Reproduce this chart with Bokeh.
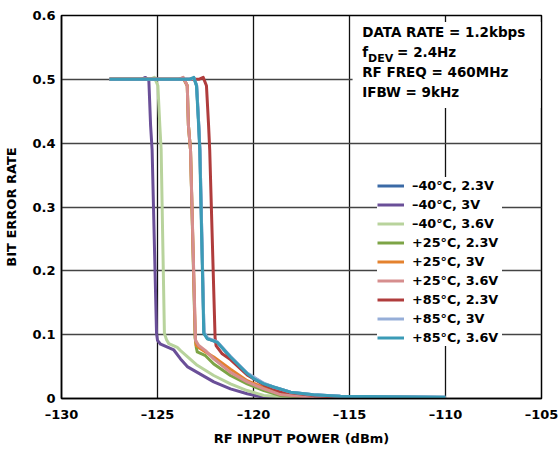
from bokeh.plotting import figure
from bokeh.models import Range1d, FixedTicker, Label, BoxAnnotation
from bokeh.embed import file_html
from bokeh.resources import INLINE

# ---------------- data ----------------
x_ticks = [-130, -125, -120, -115, -110, -105]
x_tick_labels = ["–130", "–125", "–120", "–115", "–110", "–105"]
y_ticks = [0, 0.1, 0.2, 0.3, 0.4, 0.5, 0.6]
y_tick_labels = ["0", "0.1", "0.2", "0.3", "0.4", "0.5", "0.6"]

series_names = ["–40°C, 2.3V", "–40°C, 3V", "–40°C, 3.6V",
                "+25°C, 2.3V", "+25°C, 3V", "+25°C, 3.6V",
                "+85°C, 2.3V", "+85°C, 3V", "+85°C, 3.6V"]
series_colors = ["#3b6aa6", "#6a4f98", "#b8d39c", "#7da446", "#e4822f",
                 "#d68e8e", "#b03c3c", "#96aed8", "#3b9bb6"]

m40_23_x = [-127.5, -123.3, -123.1, -122.96, -122.85, -122.79, -122.58, -122.4, -122.15, -121.89, -121.2, -120.33, -119.46, -118.96, -118.07, -116.88, -115.47, -110]
m40_23_y = [0.5, 0.5, 0.502, 0.49, 0.428, 0.389, 0.103, 0.094, 0.091, 0.088, 0.065, 0.039, 0.023, 0.018, 0.010, 0.006, 0.0035, 0.002]

m40_30_x = [-127.5, -125.85, -125.63, -125.45, -125.36, -125.28, -125.05, -125.0, -124.84, -124.15, -123.8, -123.45, -122.93, -122.07, -121.2, -120.33, -119.46, -118.0, -110]
m40_30_y = [0.5, 0.5, 0.503, 0.498, 0.428, 0.389, 0.102, 0.091, 0.085, 0.076, 0.062, 0.05, 0.041, 0.026, 0.015, 0.0074, 0.002, 0.001, 0.001]

m40_36_x = [-127.5, -125.4, -125.16, -124.98, -124.88, -124.81, -124.64, -124.53, -124.41, -123.97, -123.8, -122.93, -122.07, -121.2, -120.33, -119.46, -118.07, -110]
m40_36_y = [0.5, 0.5, 0.503, 0.49, 0.428, 0.389, 0.102, 0.092, 0.086, 0.080, 0.075, 0.052, 0.036, 0.023, 0.0125, 0.0047, 0.0016, 0.001]

p25_23_x = [-127.5, -123.9, -123.66, -123.45, -123.39, -123.28, -123.04, -122.98, -122.93, -122.5, -122.07, -121.2, -120.33, -119.46, -118.59, -117.0, -110]
p25_23_y = [0.5, 0.5, 0.502, 0.49, 0.428, 0.389, 0.095, 0.080, 0.073, 0.067, 0.054, 0.036, 0.023, 0.0125, 0.0047, 0.002, 0.001]

p25_30_x = [-127.5, -123.9, -123.66, -123.45, -123.39, -123.28, -123.03, -122.98, -122.76, -122.5, -122.07, -121.2, -120.33, -119.46, -118.59, -117.0, -110]
p25_30_y = [0.5, 0.5, 0.502, 0.49, 0.428, 0.389, 0.095, 0.083, 0.078, 0.073, 0.065, 0.046, 0.028, 0.017, 0.0074, 0.003, 0.001]

p25_36_x = [-127.5, -123.9, -123.66, -123.45, -123.39, -123.28, -123.02, -122.85, -122.5, -122.07, -121.2, -120.33, -119.46, -118.59, -117.0, -110]
p25_36_y = [0.5, 0.5, 0.503, 0.49, 0.428, 0.389, 0.091, 0.083, 0.075, 0.062, 0.041, 0.026, 0.015, 0.0063, 0.002, 0.001]

p85_23_x = [-127.5, -122.85, -122.62, -122.45, -122.34, -122.28, -122.0, -121.95, -121.63, -121.2, -120.33, -119.46, -118.59, -116.86, -115.0, -110]
p85_23_y = [0.5, 0.5, 0.503, 0.49, 0.428, 0.389, 0.095, 0.083, 0.070, 0.061, 0.037, 0.021, 0.011, 0.0045, 0.002, 0.001]

p85_30_x = [-127.5, -123.3, -123.1, -122.96, -122.85, -122.79, -122.58, -122.4, -122.15, -121.89, -121.2, -120.33, -119.46, -118.96, -118.07, -116.88, -115.47, -110]
p85_30_y = [0.5, 0.5, 0.502, 0.49, 0.428, 0.389, 0.104, 0.095, 0.092, 0.089, 0.066, 0.040, 0.024, 0.018, 0.010, 0.006, 0.0035, 0.002]

p85_36_x = [-127.5, -123.35, -123.11, -122.97, -122.86, -122.8, -122.59, -122.41, -122.15, -121.89, -121.2, -120.33, -119.98, -119.46, -118.96, -118.07, -116.88, -115.47, -110]
p85_36_y = [0.5, 0.5, 0.503, 0.49, 0.428, 0.389, 0.102, 0.0935, 0.091, 0.088, 0.065, 0.039, 0.031, 0.023, 0.018, 0.0099, 0.006, 0.0036, 0.002]

series_x = [m40_23_x, m40_30_x, m40_36_x, p25_23_x, p25_30_x, p25_36_x, p85_23_x, p85_30_x, p85_36_x]
series_y = [m40_23_y, m40_30_y, m40_36_y, p25_23_y, p25_30_y, p25_36_y, p85_23_y, p85_30_y, p85_36_y]

notes = ["DATA RATE = 1.2kbps", "f", "DEV", "= 2.4Hz", "RF FREQ = 460MHz", "IFBW = 9kHz"]

FONT = "DejaVu Sans"

# ---------------- figure ----------------
p = figure(width=560, height=450, output_backend="svg", toolbar_location=None,
           x_range=Range1d(-130, -105), y_range=Range1d(0, 0.6),
           min_border_left=61, min_border_right=19, min_border_top=15, min_border_bottom=52)
p.background_fill_color = "white"
p.border_fill_color = "white"
p.outline_line_color = "black"
p.outline_line_width = 1.5

# white box behind annotation text (hides grid like reference)
p.add_layout(BoxAnnotation(left=-114.84, right=-105.05, top=0.59, bottom=0.455,
                           fill_color="white", fill_alpha=1.0, line_color=None))

for xs, ys, name, col in zip(series_x, series_y, series_names, series_colors):
    p.line(xs, ys, line_color=col, line_width=3, line_join="round", legend_label=name)

# axes
p.xaxis.ticker = FixedTicker(ticks=x_ticks)
p.yaxis.ticker = FixedTicker(ticks=y_ticks)
p.xaxis.major_label_overrides = dict(zip(x_ticks, x_tick_labels))
p.yaxis.major_label_overrides = dict(zip(y_ticks, y_tick_labels))
for ax in (p.xaxis[0], p.yaxis[0]):
    ax.major_tick_out = 0
    ax.major_tick_in = 0
    ax.minor_tick_out = 0
    ax.minor_tick_in = 0
    ax.axis_line_color = "black"
    ax.axis_line_width = 1.5
    ax.major_label_text_font = FONT
    ax.major_label_text_font_size = "13px"
    ax.major_label_text_font_style = "bold"
    ax.major_label_text_color = "black"
    ax.axis_label_text_font = FONT
    ax.axis_label_text_font_size = "13px"
    ax.axis_label_text_font_style = "bold"
    ax.axis_label_text_color = "black"
p.xaxis.axis_label = "RF INPUT POWER (dBm)"
p.yaxis.axis_label = "BIT ERROR RATE"
p.xaxis.major_label_standoff = 8
p.xaxis.axis_label_standoff = 6
p.yaxis.major_label_standoff = 6
p.yaxis.axis_label_standoff = 10

p.xgrid.grid_line_color = "#111111"
p.xgrid.grid_line_width = 1.3
p.ygrid.grid_line_color = "#444444"
p.ygrid.grid_line_width = 1.3

# legend
lg = p.legend[0]
lg.location = (316, 52)
lg.label_text_font = FONT
lg.label_text_font_size = "12.8px"
lg.label_text_font_style = "bold"
lg.label_text_color = "black"
lg.glyph_width = 27
lg.glyph_height = 17
lg.label_height = 17
lg.label_width = 90
lg.spacing = 2
lg.label_standoff = 8
lg.padding = 5
lg.margin = 0
lg.border_line_color = None
lg.background_fill_color = "white"
lg.background_fill_alpha = 1.0

# annotation text
def note(x, y, text, size="13.5px"):
    p.add_layout(Label(x=x, y=y, text=text, text_font=FONT, text_font_size=size,
                       text_font_style="bold", text_color="black",
                       text_align="left", text_baseline="middle"))

note(-114.34, 0.574, notes[0])
note(-114.34, 0.543, notes[1])
note(-114.03, 0.5334, notes[2], size="11px")
note(-112.52, 0.543, notes[3])
note(-114.34, 0.511, notes[4])
note(-114.34, 0.480, notes[5])

open("out.html", "w").write(file_html(p, INLINE))
